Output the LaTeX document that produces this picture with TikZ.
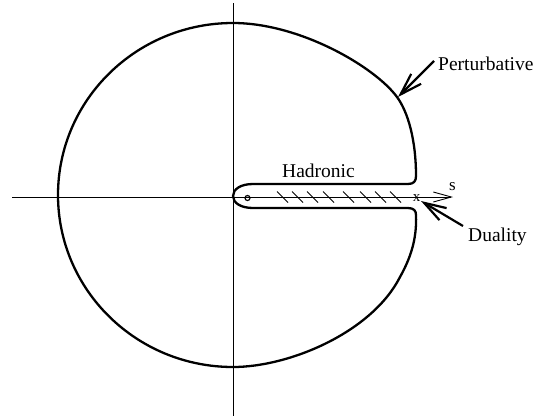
\documentclass[tikz,border=0pt]{standalone}
\usepackage{fontspec}
\setmainfont{Liberation Serif}
\usetikzlibrary{arrows.meta}
\begin{document}
\begin{tikzpicture}[x=1pt,y=-1pt,
  axis/.style={line width=0.9pt},
  contour/.style={line width=2.3pt, line join=round},
  pointer/.style={line width=2.2pt, -{Straight Barb[length=22pt,width=14pt,line width=2.2pt]}},
  hatch/.style={line width=1pt},
  lbl/.style={font=\fontsize{19.5}{23}\selectfont, inner sep=0pt, anchor=base west}]
\useasboundingbox (0,0) rectangle (545,418);
% axes
\coordinate (xl) at (12,197);
\coordinate (xr) at (453,197);
\coordinate (yt) at (233,3);
\coordinate (yb) at (233,416);
\draw[axis] (yt) -- (yb);
\draw[axis, -{Straight Barb[length=18pt,width=10pt,line width=0.9pt]}] (xl) -- (xr);
\node[lbl, font=\fontsize{17}{20}\selectfont] (s) at (449,190) {s};
% contour
\draw[contour] (253,184) -- (408,184) .. controls (414,184) and (416,181) .. (416,176)
  .. controls (416,140) and (408,112) .. (397,97)
  .. controls (375,67) and (300,23) .. (233,23)
  arc[start angle=270, end angle=90, x radius=175, y radius=172]
  .. controls (290,367) and (372,332) .. (400,277)
  .. controls (410,259) and (417,240) .. (416,215)
  .. controls (416,211) and (414,208) .. (408,208) -- (253,208)
  .. controls (241,208) and (233,203) .. (233,196)
  .. controls (233,189) and (241,184) .. (253,184) -- cycle;
% small circle at origin
\node[circle, draw, line width=1.2pt, minimum size=5pt, inner sep=0pt] (o) at (247.5,198) {};
% hatch marks
\foreach \hx in {277,292,307,323,343,360,375,390}{
  \draw[hatch] (\hx,191.5) -- (\hx+11,202.5);
}
% threshold x marker
\node[font=\fontsize{15}{18}\selectfont, inner sep=0pt, anchor=base] (xm) at (416.5,201) {x};
% labels
\node[lbl] (had) at (282,177) {Hadronic};
\node[lbl] (pert) at (438,70) {Perturbative};
\node[lbl] (dual) at (468,241) {Duality};
% pointers
\coordinate (pstart) at (434,61);
\coordinate (ptip) at (398,97);
\coordinate (dstart) at (463,226);
\coordinate (dtip) at (421,201);
\draw[pointer] (pstart) -- (ptip);
\draw[pointer] (dstart) -- (dtip);
\end{tikzpicture}
\end{document}
